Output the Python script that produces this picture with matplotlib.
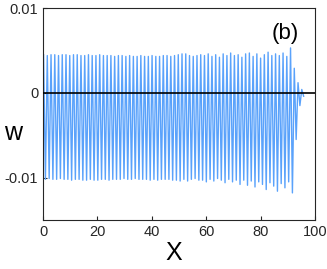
import numpy as np
import matplotlib
matplotlib.use('Agg')
import matplotlib.pyplot as plt

plt.rcParams['font.family'] = ['Liberation Sans', 'DejaVu Sans']

# crest / trough values of the oscillation, in units of 1e-3
peaks = [4.5, 4.4, 4.5, 4.5, 4.4, 4.5, 4.5, 4.4, 4.5, 4.5,
         4.4, 4.4, 4.5, 4.4, 4.4, 4.5, 4.4, 4.4, 4.4, 4.3,
         4.4, 4.4, 4.3, 4.4, 4.3, 4.3, 4.4, 4.3, 4.3, 4.4,
         4.3, 4.3, 4.4, 4.4, 4.3, 4.4, 4.5, 4.6, 4.6, 4.4,
         4.3, 4.4, 4.5, 4.4, 4.6, 4.3, 4.5, 4.2, 4.6, 4.4,
         4.7, 4.4, 4.5, 4.2, 4.6, 4.7, 4.3, 4.6, 4.1, 4.5,
         4.8, 4.4, 4.6, 4.4, 4.7, 4.3, 5.3, 2.9, 1.2, 0.4]
troughs = [-10.2, -10.1, -10.2, -10.2, -10.1, -10.2, -10.2, -10.3, -10.2, -10.2,
           -10.3, -10.3, -10.2, -10.3, -10.3, -10.2, -10.2, -10.3, -10.2, -10.2,
           -10.2, -10.1, -10.2, -10.2, -10.1, -10.2, -10.2, -10.2, -10.3, -10.2,
           -10.3, -10.2, -10.2, -10.2, -10.3, -10.3, -10.4, -10.2, -10.4, -10.2,
           -10.1, -10.3, -10.3, -10.5, -10.2, -10.4, -10.1, -10.3, -10.6, -10.2,
           -10.5, -10.3, -10.8, -10.3, -10.9, -10.4, -11.1, -10.5, -10.8, -11.4,
           -10.6, -11.0, -11.6, -10.7, -11.2, -10.5, -11.8, -5.5, -1.5, -0.4]
x_first, x_last = 0.2, 95.8

n = len(peaks)
x = np.linspace(x_first, x_last, 2 * n)
w = np.empty(2 * n)
w[0::2] = peaks
w[1::2] = troughs
w = w * 1e-3

fig = plt.figure(figsize=(3.27, 2.69), dpi=100)
ax = fig.add_axes([0.1315, 0.182, 0.832, 0.788])
ax.plot(x, w, color='#5aa2fb', lw=1.0)
ax.axhline(0, color='k', lw=1.2, zorder=3)

ax.set_xlim(0, 100)
ax.set_ylim(-0.015, 0.01)
ax.set_xticks([0, 20, 40, 60, 80, 100])
ax.set_yticks([-0.01, 0, 0.01])
ax.set_yticklabels(['-0.01', '0', '0.01'])
ax.tick_params(direction='in', length=3, labelsize=10.5, colors='#262626')
for s in ax.spines.values():
    s.set_color('#262626')
    s.set_linewidth(0.8)

ax.set_xlabel('X', fontsize=18)
ax.xaxis.set_label_coords(0.48, -0.10)
ax.set_ylabel('w', fontsize=18, rotation=0, va='center', ha='center')
ax.yaxis.set_label_coords(-0.11, 0.41)
ax.text(0.89, 0.88, '(b)', transform=ax.transAxes, fontsize=16, ha='center', va='center')

fig.savefig('out.png', dpi=100)
